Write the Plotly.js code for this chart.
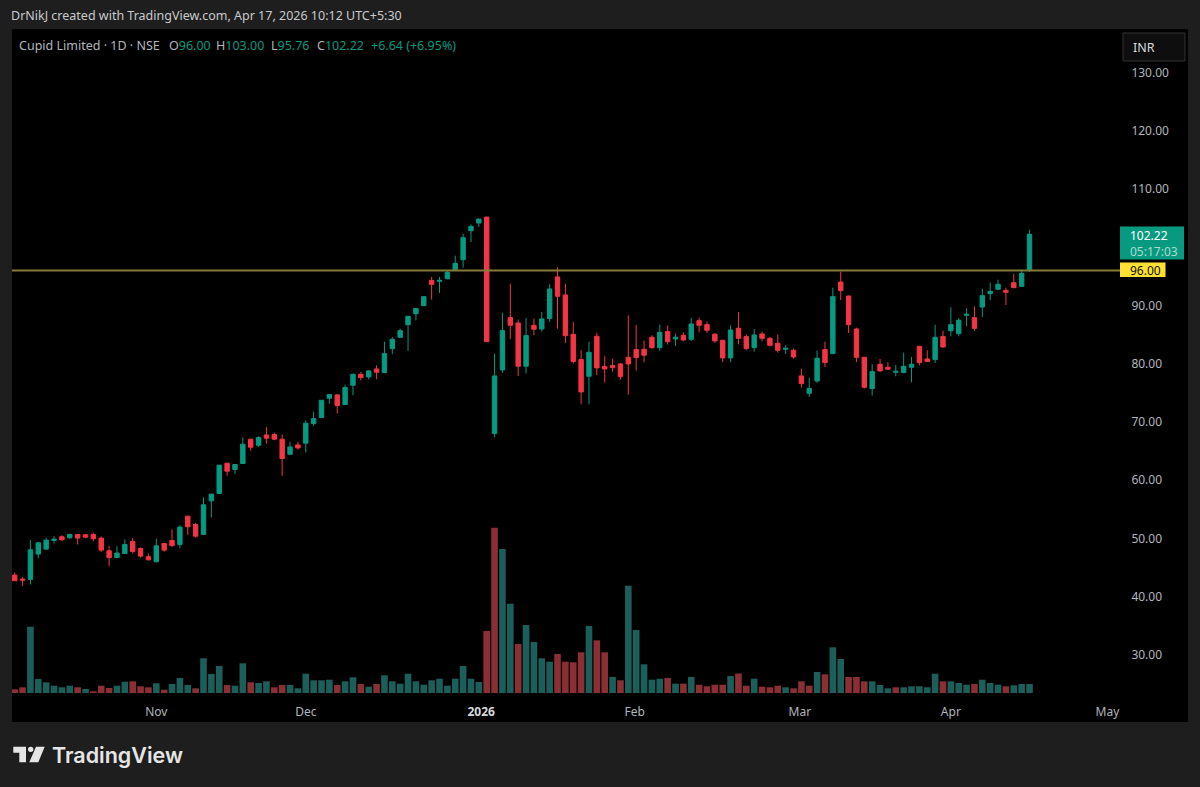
<!DOCTYPE html>
<html>
<head>
<meta charset="utf-8">
<script src="https://cdn.plot.ly/plotly-3.0.1.min.js"></script>
<style>html,body{margin:0;padding:0;background:#1e1e1e}#chart{width:1200px;height:787px}</style>
</head>
<body>
<div id="chart"></div>
<script>
const opens = [43.72,43.04,42.98,47.33,48.18,49.67,50.30,50.13,50.70,50.64,50.70,50.07,47.90,46.75,47.44,49.50,48.30,46.87,46.01,49.15,
49.67,48.98,53.84,52.41,50.70,56.47,57.73,62.93,61.85,62.88,67.05,66.02,67.79,67.85,67.05,64.47,66.07,66.36,69.73,70.76,
74.08,74.65,72.99,76.31,78.19,77.74,79.11,78.48,82.60,84.54,86.71,88.60,89.97,94.32,94.15,94.60,96.15,97.86,102.84,104.15,
105.18,68.02,78.94,87.92,87.00,79.57,86.60,85.97,87.75,94.90,91.81,85.06,80.72,77.86,84.72,79.51,79.69,79.97,81.11,82.43,
82.49,84.55,82.77,85.52,84.26,84.89,84.20,87.40,86.72,85.06,84.03,81.00,86.09,84.66,82.77,85.11,84.37,83.51,82.48,82.31,
77.91,74.94,77.05,82.43,81.74,94.03,91.63,85.97,81.11,75.74,79.91,79.40,78.54,78.48,79.40,82.99,80.83,80.71,84.66,85.68,
85.17,88.31,87.91,89.74,92.03,92.77,92.60,93.92,93.29,96.00];
const highs = [44.18,43.44,49.73,49.44,50.13,50.41,50.58,50.81,50.76,50.76,50.98,50.36,48.70,48.70,49.84,50.07,48.47,47.44,50.01,49.27,
51.56,52.30,53.90,52.70,57.04,57.62,62.59,62.99,62.76,67.34,67.11,67.56,69.16,68.19,67.85,66.59,66.59,70.30,71.79,73.79,
74.76,74.82,76.42,78.31,78.60,78.88,79.74,83.80,84.60,86.03,88.26,89.57,91.57,94.89,94.89,95.92,98.55,102.32,103.92,104.90,
105.20,81.74,88.78,93.75,87.58,87.86,87.75,88.89,93.64,96.55,93.75,87.18,82.32,83.80,85.29,81.29,80.89,80.14,88.32,86.66,
83.97,84.89,86.72,86.55,85.17,85.40,87.86,87.92,87.23,85.29,84.09,86.60,88.89,85.06,85.97,85.51,84.60,85.05,83.23,82.60,
79.17,77.62,82.25,83.80,93.06,95.80,91.69,86.20,81.17,79.91,80.83,80.25,79.79,81.91,81.17,83.05,82.31,86.71,85.68,89.69,
87.86,89.52,89.86,92.89,93.92,94.43,93.06,95.46,96.15,103.00];
const lows = [42.75,41.84,42.12,46.64,48.18,49.15,49.61,49.96,48.98,50.07,49.55,47.67,45.27,46.75,47.44,47.38,46.70,46.24,46.01,47.73,
48.53,48.35,50.64,50.13,50.70,53.61,57.73,60.76,61.10,62.88,65.05,65.73,66.30,66.87,60.76,64.47,65.27,64.76,69.33,70.76,
73.16,71.45,72.99,74.60,77.16,77.34,77.34,78.48,81.62,84.54,82.20,87.46,89.97,91.00,92.15,94.49,96.15,96.49,100.90,103.50,
83.80,67.39,78.43,84.20,77.91,78.31,84.89,85.50,87.18,86.03,83.57,80.03,73.05,73.05,78.03,76.77,78.66,77.29,74.71,78.83,
80.26,82.55,82.20,83.29,83.06,83.86,83.92,85.40,85.29,83.57,80.31,80.31,83.34,82.32,82.08,83.85,83.00,81.91,81.68,80.88,
75.91,74.31,76.71,79.45,81.74,90.94,85.28,80.31,75.74,74.54,78.65,79.00,77.85,78.48,76.82,79.74,80.31,80.14,82.77,84.71,
84.71,86.43,85.63,88.03,90.89,92.77,90.09,93.00,93.29,95.76];
const closes = [42.75,42.87,48.07,49.27,49.73,49.90,49.78,50.70,50.07,50.24,49.96,48.01,46.75,47.50,48.98,47.78,46.98,46.35,48.75,48.01,
48.81,51.96,52.01,50.41,55.79,57.62,62.59,61.56,62.70,66.19,65.68,67.33,67.22,67.05,63.73,65.73,65.56,69.79,70.59,73.73,
74.71,72.82,75.91,78.19,77.62,78.77,78.54,81.74,84.20,85.68,88.14,89.50,91.52,93.63,94.32,95.69,97.23,101.64,103.58,104.84,
83.80,77.91,85.69,86.60,79.57,84.83,85.92,87.69,92.84,91.58,84.83,80.37,75.17,81.97,79.29,79.11,79.34,77.80,79.97,81.06,
81.46,82.77,85.40,83.80,84.55,84.09,86.83,86.60,85.75,83.92,81.00,85.80,84.37,82.60,84.94,84.37,83.17,82.31,82.65,81.17,
76.59,75.74,80.94,80.20,91.52,92.55,86.71,81.11,75.97,78.65,78.77,79.05,78.71,79.57,79.91,80.20,80.37,84.54,82.88,86.71,
87.46,88.49,86.08,91.69,92.43,93.63,92.26,93.06,95.52,102.22];
const volumes = [3.7,5.7,66.3,14,10.7,7.3,5.7,7.3,5.7,4,1.7,7.3,5,7.3,11.3,11.7,6.7,5.7,9.7,3.3,
9,15,8,4.7,34.7,19,27,8,7.3,29.7,10.7,10,11.7,5.7,8,8,4.7,19.3,12.7,12.7,
13.3,8,11.7,15.7,9,6.3,9,17.7,11.7,9.3,19.3,11.7,8.3,12.7,14.3,7.3,14.3,27,14.3,11,
62,165.3,144,89.3,49,68,51,34.7,31.3,39,31.3,30.7,40.7,67,52.7,40.7,16,12.7,107.3,63,
28.7,13.3,14.3,15,9.3,9.3,16,8.3,6.7,8.3,8.3,17,19.5,7.3,14.3,6.3,5.7,7.3,5.7,4.7,
11.7,7.3,21,18.7,45.7,34,16,16,11.7,11.7,8,4.7,5.7,5.7,6.7,6.7,5.7,19.3,11.7,11.7,
10,8.3,9,13.3,10,8.3,6.7,7.7,9,9];
const volumeRising = [0,0,1,1,1,1,1,1,0,1,0,0,0,1,1,0,0,0,1,0,
1,1,1,0,1,1,1,0,1,1,0,1,1,0,0,1,1,1,1,1,
1,0,1,1,0,1,0,1,1,1,1,1,1,1,1,1,1,1,1,1,
0,0,1,1,0,1,1,1,1,0,0,0,0,1,0,0,1,0,1,1,
1,1,1,0,1,0,1,0,0,0,0,1,0,0,1,0,0,0,1,0,
0,0,1,0,1,1,0,0,0,1,1,1,0,1,1,1,1,1,0,1,
1,1,0,1,1,1,0,1,1,1];
const monthBars = [18,37,59.3,78.8,99.8,119,138.9];
const monthLabels = ['Nov','Dec','<b><span style="color:#d8dade">2026</span></b>','Feb','Mar','Apr','May'];
const priceTicks = [30,40,50,60,70,80,90,110,120,130];
const priceLevel = 96.00;
const lastPrice = 102.22;
const countdown = '05:17:03';
const currency = 'INR';
const headerText = 'DrNikJ created with TradingView.com, Apr 17, 2026 10:12 UTC+5:30';
const symbolText = 'Cupid Limited · 1D · NSE';
const ohlcPieces = [['O','96.00',169],['H','103.00',216],['L','95.76',271],['C','102.22',317]];
const changeText = '+6.64 (+6.95%)';

const UP='#089981', DOWN='#F23645', VUP='#1b5e5a', VDOWN='#8a2f33', TXT='#b2b5bd', BG='#1e1e1e';
const F='"Noto Sans", sans-serif';
const L=12,R=1117,T=29,B=696;
const px=x=>(x-L)/(R-L), py=y=>1-(y-T)/(B-T);
const idx=opens.map((_,i)=>i);

function ann(text,x,y,color,size,extra){
  return Object.assign({text:text,xref:'paper',yref:'paper',x:px(x),y:py(y),xanchor:'left',yanchor:'middle',align:'left',
    showarrow:false,borderpad:0,borderwidth:0,font:{family:F,size:size||12,color:color}},extra||{});
}
function rect(x0,y0,x1,y1,fill,layer){
  return {type:'rect',xref:'paper',yref:'paper',x0:px(x0),x1:px(x1),y0:py(y0),y1:py(y1),fillcolor:fill,line:{width:0},layer:layer||'above'};
}
function poly(pts,fill){
  return {type:'path',xref:'paper',yref:'paper',fillcolor:fill,line:{width:0},layer:'above',
    path:'M'+pts.map(p=>px(p[0])+','+py(p[1])).join('L')+'Z'};
}
const shapes=[
  rect(12,29,1188,722,'#000000','below'),
  {type:'line',xref:'paper',yref:'y',x0:0,x1:px(1120),y0:priceLevel,y1:priceLevel,line:{color:'#857a3a',width:2}},
  {type:'rect',xref:'paper',yref:'paper',x0:px(1123),x1:px(1185),y0:py(33),y1:py(61),fillcolor:'#0e0e0e',line:{color:'#333333',width:1}},
  rect(1120,226.5,1184,259.5,UP),
  rect(1120,262.5,1165.5,277,'#ffe033'),
  poly([[13.3,746.7],[26,746.7],[26,762.3],[19.3,762.3],[19.3,752.7],[13.3,752.7]],'#e6e6e6'),
  {type:'circle',xref:'paper',yref:'paper',x0:px(28),x1:px(33.4),y0:py(746.7),y1:py(752),fillcolor:'#e6e6e6',line:{width:0}},
  poly([[36,746.7],[44.7,746.7],[38.3,762.3],[29.3,762.3]],'#e6e6e6')
];
const annotations=[
  ann(headerText,11,16,'#c8cacd',12.5),
  ann(symbolText,19,46,TXT,12.5),
  ann(changeText,371,46,UP,12.5),
  ann(currency,1133,47,'#d8dade',12.5),
  ann(lastPrice.toFixed(2)+'<br><span style="color:#a9dccf">'+countdown+'</span>',1130,243,'#ffffff',12),
  ann(priceLevel.toFixed(2),1130,270.5,'#111111',12),
  ann('TradingView',52,755,'#e6e6e6',21.5,{font:{family:'Inter, sans-serif',size:21.5,color:'#e6e6e6',weight:600}})
];
ohlcPieces.forEach(p=>annotations.push(ann(p[0]+'<span style="color:'+UP+'">'+p[1]+'</span>',p[2],46,TXT,12.5)));

const traces=[
  {type:'candlestick',x:idx,open:opens,high:highs,low:lows,close:closes,xaxis:'x',yaxis:'y',hoverinfo:'skip',
   increasing:{line:{color:UP,width:1},fillcolor:UP},decreasing:{line:{color:DOWN,width:1},fillcolor:DOWN},whiskerwidth:0},
  {type:'bar',x:idx,y:volumes,xaxis:'x',yaxis:'y2',width:0.84,hoverinfo:'skip',
   marker:{color:volumeRising.map(r=>r?VUP:VDOWN),line:{width:0}}}
];
const layout={
  width:1200,height:787,autosize:false,showlegend:false,dragmode:false,
  paper_bgcolor:BG,plot_bgcolor:'rgba(0,0,0,0)',
  margin:{l:L,r:1200-R,t:T,b:787-B,pad:0},
  boxgap:0.2,
  font:{family:F,color:TXT,size:12},
  xaxis:{range:[-0.343,140.12],rangeslider:{visible:false},showgrid:false,zeroline:false,showline:false,
    tickmode:'array',tickvals:monthBars,ticktext:monthLabels,ticks:'outside',ticklen:5,tickcolor:'rgba(0,0,0,0)',
    tickfont:{family:F,size:12,color:TXT},tickangle:0},
  yaxis:{range:[22.97,137.46],side:'right',showgrid:false,zeroline:false,showline:false,
    tickmode:'array',tickvals:priceTicks,tickformat:'.2f',ticks:'outside',ticklen:11,tickcolor:'rgba(0,0,0,0)',
    tickfont:{family:F,size:12,color:TXT}},
  yaxis2:{range:[-3,664],overlaying:'y',side:'left',visible:false,fixedrange:true},
  shapes:shapes,annotations:annotations
};
Plotly.newPlot('chart',traces,layout,{displayModeBar:false,staticPlot:true,responsive:false});
</script>
</body>
</html>
